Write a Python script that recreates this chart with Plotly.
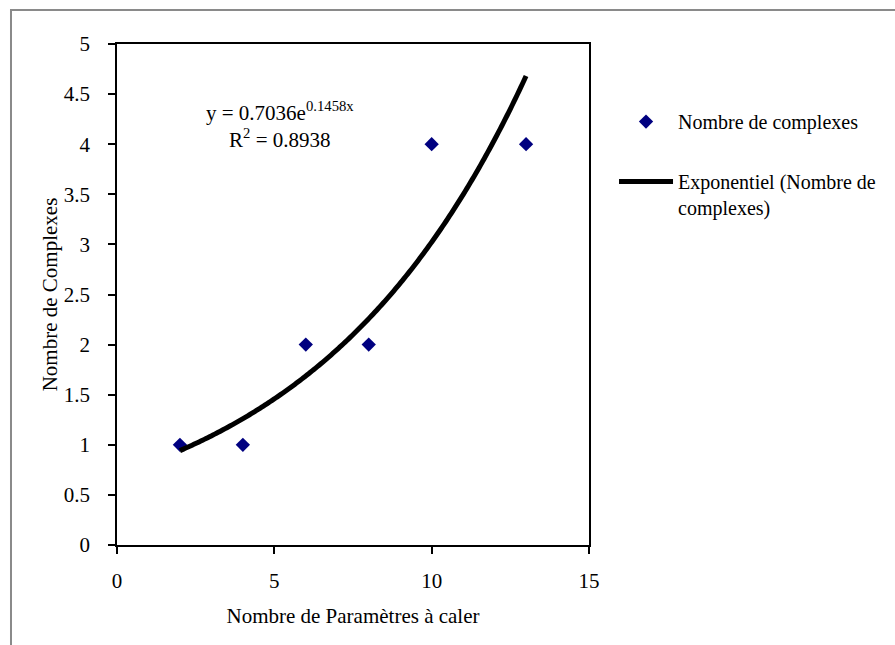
import numpy as np
import plotly.graph_objects as go

# Data
params = [2, 4, 6, 8, 10, 13]
complexes = [1, 1, 2, 2, 4, 4]
x_ticks = [0, 5, 10, 15]
y_ticks = [0, 0.5, 1, 1.5, 2, 2.5, 3, 3.5, 4, 4.5, 5]
y_tick_text = ["0", "0.5", "1", "1.5", "2", "2.5", "3", "3.5", "4", "4.5", "5"]

# Exponential trendline fitted from the data (least squares on ln y, like Excel)
b, ln_a = np.polyfit(params, np.log(complexes), 1)
a = np.exp(ln_a)
xs = np.linspace(min(params), max(params), 200)
ys = a * np.exp(b * xs)

FONT = "Liberation Serif, Times New Roman, serif"
FS = 21

fig = go.Figure()
fig.add_trace(go.Scatter(
    x=params, y=complexes, mode="markers", name="Nombre de complexes",
    marker=dict(symbol="diamond", size=11, color="#000080"),
    legendgroup="a",
))
fig.add_trace(go.Scatter(
    x=xs, y=ys, mode="lines", name="Exponentiel (Nombre de<br>complexes)",
    line=dict(color="black", width=5, simplify=False),
    legendgroup="b",
))

fig.add_annotation(
    x=0.345, y=0.897, xref="paper", yref="paper",
    text="y = 0.7036e<sup>0.1458x</sup><br>R<sup>2</sup> = 0.8938",
    showarrow=False, align="center",
    font=dict(family=FONT, size=FS, color="black"),
)

# Outer chart border
fig.add_shape(type="rect", xref="paper", yref="paper",
              x0=-0.2246, x1=1.66, y0=-0.21, y1=1.0679,
              line=dict(color="#8a8a8a", width=2), layer="below")

fig.update_layout(
    width=895, height=645,
    margin=dict(l=117, r=306, t=44, b=100),
    paper_bgcolor="white", plot_bgcolor="white",
    font=dict(family=FONT, size=FS, color="black"),
    showlegend=True,
    legend=dict(x=1.053, y=0.884, xanchor="left", yanchor="top",
                font=dict(family=FONT, size=20, color="black"),
                tracegroupgap=31, itemwidth=54, bgcolor="rgba(0,0,0,0)",
                borderwidth=0, valign="top"),
    xaxis=dict(range=[0, 15], tickvals=x_ticks, ticks="outside", ticklen=7,
               tickwidth=1.5, tickcolor="black", showline=True, linecolor="black",
               linewidth=1.5, mirror=True, showgrid=False, zeroline=False,
               ticklabelstandoff=9,
               title=dict(text="Nombre de Paramètres à caler", standoff=16,
                          font=dict(family=FONT, size=FS))),
    yaxis=dict(range=[0, 5], tickvals=y_ticks, ticktext=y_tick_text, ticks="outside",
               ticklen=7, tickwidth=1.5, tickcolor="black", showline=True,
               linecolor="black", linewidth=1.5, mirror=True, showgrid=False,
               zeroline=False, ticklabelstandoff=14,
               title=dict(text="Nombre de Complexes", standoff=0,
                          font=dict(family=FONT, size=FS))),
)

fig.write_html("out.html")
